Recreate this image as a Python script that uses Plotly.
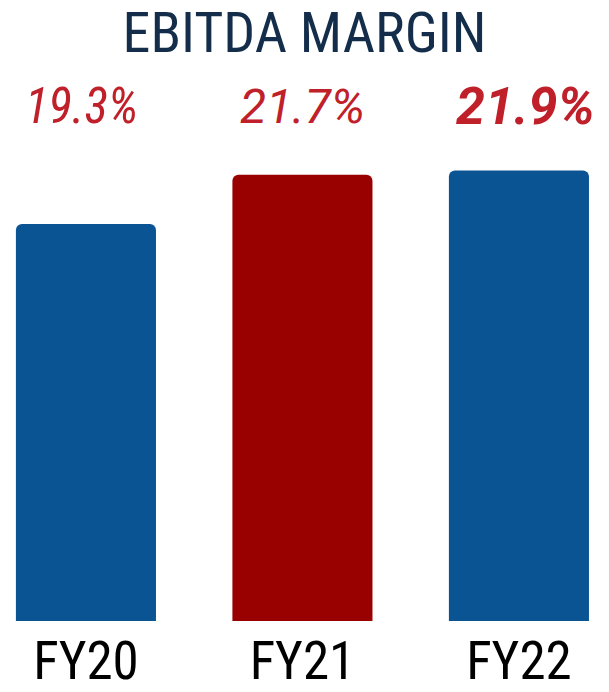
import plotly.graph_objects as go

categories = ["FY20", "FY21", "FY22"]
margins = [19.3, 21.7, 21.9]
value_labels = ["19.3%", "21.7%", "21.9%"]
bar_colors = ["#0a5494", "#990000", "#0a5494"]
title_text = "EBITDA MARGIN"

COND = "Roboto Condensed, DejaVu Sans Condensed, sans-serif"
ROBOTO = "Roboto, Liberation Sans, sans-serif"

label_fonts = [
    dict(family=COND, size=49, color="#c0202a", style="italic", weight="normal"),
    dict(family=ROBOTO, size=48, color="#c0202a", style="italic", weight="normal"),
    dict(family=ROBOTO, size=52, color="#c0202a", style="italic", weight="bold"),
]
label_xshift = [-4, 0, 7]

fig = go.Figure()
fig.add_trace(go.Bar(
    x=categories,
    y=margins,
    marker=dict(color=bar_colors, cornerradius=6, line=dict(width=0)),
    hoverinfo="skip",
))

for cat, lab, f, dx in zip(categories, value_labels, label_fonts, label_xshift):
    fig.add_annotation(
        x=cat, xref="x", y=(631 - 108) / 631, yref="paper",
        text=lab, showarrow=False, font=f, xshift=dx,
        xanchor="center", yanchor="middle",
    )

fig.update_layout(
    width=609, height=692,
    margin=dict(l=0, r=0, t=0, b=61),
    paper_bgcolor="white", plot_bgcolor="white",
    showlegend=False,
    bargap=0.353,
    title=dict(
        text=title_text, x=0.5, xanchor="center",
        y=1 - 32.5 / 692, yanchor="middle", yref="container",
        font=dict(family=COND, size=56, color="#142d4a"),
    ),
    xaxis=dict(
        type="category", range=[-0.397, 2.416],
        showgrid=False, zeroline=False, showline=False, ticks="",
        tickfont=dict(family=COND, size=53, color="black"),
        ticklabelstandoff=4,
    ),
    yaxis=dict(
        range=[0, 30.19], visible=False, showgrid=False, zeroline=False,
    ),
)

fig.write_html("out.html")
